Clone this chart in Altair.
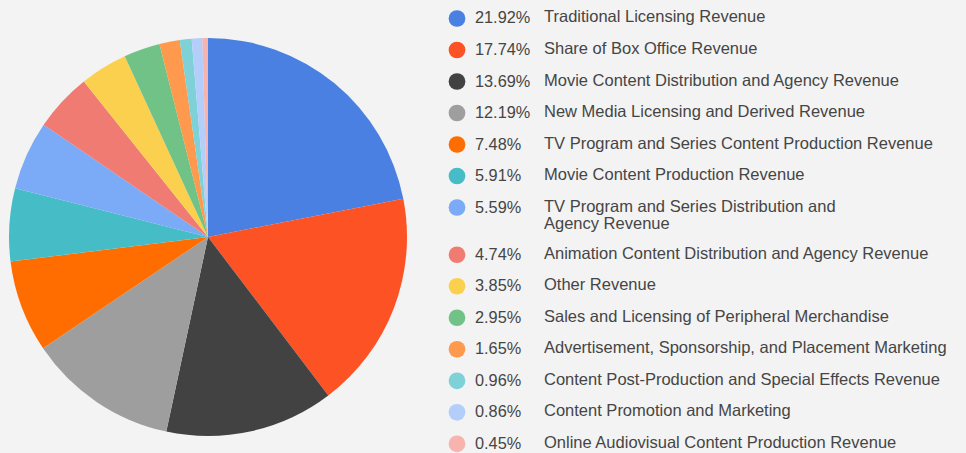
import altair as alt
import pandas as pd
import jinja2

categories = [
    "Traditional Licensing Revenue",
    "Share of Box Office Revenue",
    "Movie Content Distribution and Agency Revenue",
    "New Media Licensing and Derived Revenue",
    "TV Program and Series Content Production Revenue",
    "Movie Content Production Revenue",
    "TV Program and Series Distribution and\nAgency Revenue",
    "Animation Content Distribution and Agency Revenue",
    "Other Revenue",
    "Sales and Licensing of Peripheral Merchandise",
    "Advertisement, Sponsorship, and Placement Marketing",
    "Content Post-Production and Special Effects Revenue",
    "Content Promotion and Marketing",
    "Online Audiovisual Content Production Revenue",
]
shares = [21.92, 17.74, 13.69, 12.19, 7.48, 5.91, 5.59, 4.74, 3.85, 2.95, 1.65, 0.96, 0.86, 0.45]
colors = [
    "#4a80e2", "#fc5224", "#424242", "#9e9e9e", "#ff6d01", "#46bdc6", "#7baaf7",
    "#f07b72", "#fcd04f", "#71c287", "#ff994d", "#7ed1d7", "#b3cefb", "#f7b3ae",
]

rows = []
slot = 0.0
for i, (c, s) in enumerate(zip(categories, shares)):
    rows.append({"idx": i, "cat": c, "share": s, "pct": f"{s:.2f}%", "slot": slot})
    slot += 1 + 0.5 * c.count("\n")
df = pd.DataFrame(rows)

color_scale = alt.Scale(domain=categories, range=colors)

pie = alt.Chart(df).mark_arc(radius=199, strokeWidth=0).encode(
    theta=alt.Theta("share:Q", stack=True),
    order=alt.Order("idx:Q"),
    color=alt.Color("cat:N", scale=color_scale, legend=None),
).properties(width=400, height=458)

yenc = alt.Y("slot:Q", axis=None,
             scale=alt.Scale(domain=[-0.3333, 14.206], reverse=True, nice=False, zero=False))

dots = alt.Chart(df).mark_point(filled=True, shape="circle", size=280, opacity=1).encode(
    x=alt.value(27),
    y=yenc,
    color=alt.Color("cat:N", scale=color_scale, legend=None),
)
pcts = alt.Chart(df).mark_text(align="left", baseline="middle", font="Liberation Sans",
                               fontSize=16.3, color="#454545").encode(
    x=alt.value(45), y=yenc, text="pct:N")
labels = alt.Chart(df).mark_text(align="left", baseline="top", dy=-9, lineBreak="\n", lineHeight=17,
                                 font="Liberation Sans", fontSize=16.5, color="#454545").encode(
    x=alt.value(114), y=yenc, text="cat:N")

legend = alt.layer(dots, pcts, labels).properties(width=520, height=458)

chart = alt.hconcat(pie, legend, spacing=22).properties(
    padding=0, background="#f3f3f3"
).configure_view(stroke=None)

TEMPLATE = jinja2.Template("""<!DOCTYPE html>
<html>
<head>
  <style>
    html, body { background: #f3f3f3; }
    #{{ output_div }}.vega-embed { width: 100%; display: flex; }
    #{{ output_div }}.vega-embed details,
    #{{ output_div }}.vega-embed details summary { position: relative; }
  </style>
  <script type="text/javascript" src="{{ base_url }}/vega@{{ vega_version }}"></script>
  <script type="text/javascript" src="{{ base_url }}/vega-lite@{{ vegalite_version }}"></script>
  <script type="text/javascript" src="{{ base_url }}/vega-embed@{{ vegaembed_version }}"></script>
</head>
<body>
  <div id="{{ output_div }}"></div>
  <script>
    (function(vegaEmbed) {
      var spec = {{ spec }};
      var embedOpt = {{ embed_options }};
      function showError(el, error){
        el.innerHTML = ('<div style="color:red;"><p>JavaScript Error: ' + error.message + '</p></div>');
        throw error;
      }
      const el = document.getElementById('{{ output_div }}');
      vegaEmbed("#{{ output_div }}", spec, embedOpt).catch(error => showError(el, error));
    })(vegaEmbed);
  </script>
</body>
</html>
""")

chart.save("out.html", embed_options={"renderer": "svg", "actions": False}, template=TEMPLATE)
